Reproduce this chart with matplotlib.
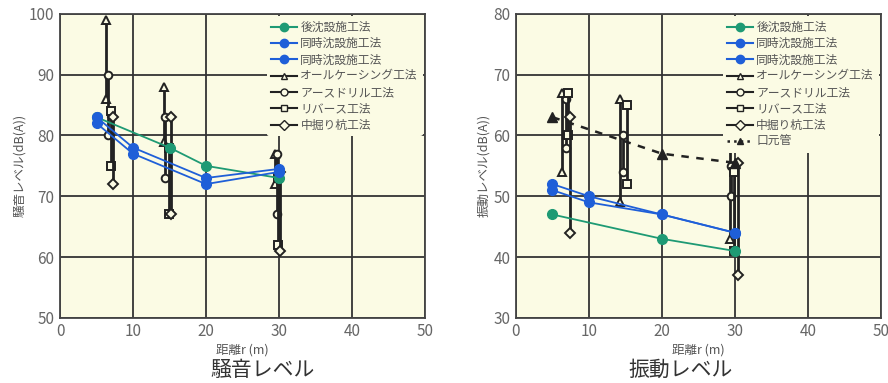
import matplotlib.pyplot as plt
from matplotlib.lines import Line2D

plt.rcParams['font.family'] = ['Noto Sans CJK JP', 'DejaVu Sans']

BG = '#fbfbe4'
GREEN = '#1e9a74'
BLUE = '#1f5fd8'
DARK = '#222222'
TXT = '#555555'

# 騒音レベル
noise_green_x = [5, 15, 20, 30]
noise_green_y = [83, 78, 75, 73]
noise_blue1_x = [5, 10, 20, 30]
noise_blue1_y = [83, 78, 73, 74.5]
noise_blue2_x = [5, 10, 20, 30]
noise_blue2_y = [82, 77, 72, 74]

noise_allcasing_x = [6.3, 14.3, 29.4]
noise_allcasing_hi = [99, 88, 77]
noise_allcasing_lo = [86, 79, 72]
noise_earthdrill_x = [6.6, 14.4, 29.7]
noise_earthdrill_hi = [90, 83, 77]
noise_earthdrill_lo = [80, 73, 67]
noise_reverse_x = [7.0, 14.9, 29.9]
noise_reverse_hi = [84, 78, 73]
noise_reverse_lo = [75, 67, 62]
noise_nakabori_x = [7.2, 15.2, 30.2]
noise_nakabori_hi = [83, 83, 74]
noise_nakabori_lo = [72, 67, 61]

# 振動レベル
vib_green_x = [5, 20, 30]
vib_green_y = [47, 43, 41]
vib_blue1_x = [5, 10, 20, 30]
vib_blue1_y = [52, 50, 47, 44]
vib_blue2_x = [5, 10, 20, 30]
vib_blue2_y = [51, 49, 47, 44]
vib_kuchimoto_x = [5, 20, 30]
vib_kuchimoto_y = [63, 57, 55.5]

vib_allcasing_x = [6.35, 14.3, 29.3]
vib_allcasing_hi = [67, 66, 59]
vib_allcasing_lo = [54, 49, 43]
vib_earthdrill_x = [6.85, 14.65, 29.4]
vib_earthdrill_hi = [66, 60, 55]
vib_earthdrill_lo = [58, 54, 50]
vib_reverse_x = [7.1, 15.25, 29.9]
vib_reverse_hi = [67, 65, 54]
vib_reverse_lo = [60, 52, 41]
vib_nakabori_x = [7.4, 30.4]
vib_nakabori_hi = [63, 55.5]
vib_nakabori_lo = [44, 37]

labels = ['後沈設施工法', '同時沈設施工法', '同時沈設施工法', 'オールケーシング工法',
          'アースドリル工法', 'リバース工法', '中掘り杭工法', '口元管']


def ranges(ax, xs, his, los, marker):
    for x, hi, lo in zip(xs, his, los):
        ax.plot([x, x], [lo, hi], color=DARK, lw=2, marker=marker, ms=5.5,
                mfc=BG, mec=DARK, mew=1.4, zorder=3)


def setup(ax, ylo, yhi, ylabel):
    ax.set_facecolor(BG)
    ax.set_xlim(0, 50)
    ax.set_ylim(ylo, yhi)
    ax.set_xticks(range(0, 51, 10))
    ax.set_yticks(range(ylo, yhi + 1, 10))
    ax.grid(True, color='#333333', lw=1.3)
    ax.set_axisbelow(True)
    for s in ax.spines.values():
        s.set_color('#444444')
        s.set_linewidth(1.3)
    ax.tick_params(length=0, labelsize=11, colors='#666666', pad=4)
    ax.set_xlabel('距離r (m)', fontsize=9, color=TXT, labelpad=2)
    ax.set_ylabel(ylabel, fontsize=9, color=TXT, labelpad=2)


def handles(with_kuchimoto):
    h = [Line2D([], [], color=GREEN, marker='o', ms=6, lw=1.5),
         Line2D([], [], color=BLUE, marker='o', ms=6, lw=1.5),
         Line2D([], [], color=BLUE, marker='o', ms=6, lw=1.5),
         Line2D([], [], color=DARK, marker='^', ms=5, mfc=BG, lw=1.5),
         Line2D([], [], color=DARK, marker='o', ms=5, mfc=BG, lw=1.5),
         Line2D([], [], color=DARK, marker='s', ms=5, mfc=BG, lw=1.5),
         Line2D([], [], color=DARK, marker='D', ms=5, mfc=BG, lw=1.5)]
    if with_kuchimoto:
        h.append(Line2D([], [], color=DARK, marker='^', ms=5, ls=':', lw=1.8))
    return h


def legend(ax, n):
    leg = ax.legend(handles(n == 8), labels[:n], loc='upper right', fontsize=8.5,
                    handlelength=2.2, handletextpad=0.25, labelspacing=0.28,
                    borderaxespad=0.2, facecolor=BG, edgecolor='none', framealpha=1)
    for t in leg.get_texts():
        t.set_color(TXT)


fig = plt.figure(figsize=(8.88, 3.83), dpi=100)
ax1 = fig.add_axes([0.0676, 0.170, 0.411, 0.794])
ax2 = fig.add_axes([0.581, 0.170, 0.411, 0.794])

# noise
setup(ax1, 50, 100, '騒音レベル(dB(A))')
ranges(ax1, noise_allcasing_x, noise_allcasing_hi, noise_allcasing_lo, '^')
ranges(ax1, noise_earthdrill_x, noise_earthdrill_hi, noise_earthdrill_lo, 'o')
ranges(ax1, noise_reverse_x, noise_reverse_hi, noise_reverse_lo, 's')
ranges(ax1, noise_nakabori_x, noise_nakabori_hi, noise_nakabori_lo, 'D')
ax1.plot(noise_green_x, noise_green_y, color=GREEN, marker='o', ms=7, lw=1.3, zorder=4)
ax1.plot(noise_blue1_x, noise_blue1_y, color=BLUE, marker='o', ms=7, lw=1.3, zorder=4)
ax1.plot(noise_blue2_x, noise_blue2_y, color=BLUE, marker='o', ms=7, lw=1.3, zorder=4)
legend(ax1, 7)

# vibration
setup(ax2, 30, 80, '振動レベル(dB(A))')
ranges(ax2, vib_allcasing_x, vib_allcasing_hi, vib_allcasing_lo, '^')
ranges(ax2, vib_earthdrill_x, vib_earthdrill_hi, vib_earthdrill_lo, 'o')
ranges(ax2, vib_reverse_x, vib_reverse_hi, vib_reverse_lo, 's')
ranges(ax2, vib_nakabori_x, vib_nakabori_hi, vib_nakabori_lo, 'D')
ax2.plot(vib_kuchimoto_x, vib_kuchimoto_y, color=DARK, ls=(0, (3, 3)), lw=1.8,
         marker='^', ms=7, zorder=3)
ax2.plot(vib_green_x, vib_green_y, color=GREEN, marker='o', ms=7, lw=1.3, zorder=4)
ax2.plot(vib_blue1_x, vib_blue1_y, color=BLUE, marker='o', ms=7, lw=1.3, zorder=4)
ax2.plot(vib_blue2_x, vib_blue2_y, color=BLUE, marker='o', ms=7, lw=1.3, zorder=4)
legend(ax2, 8)

fig.text(0.296, 0.034, '騒音レベル', ha='center', va='center', fontsize=15, color='#333333')
fig.text(0.766, 0.034, '振動レベル', ha='center', va='center', fontsize=15, color='#333333')

fig.savefig('out.png', dpi=100)
